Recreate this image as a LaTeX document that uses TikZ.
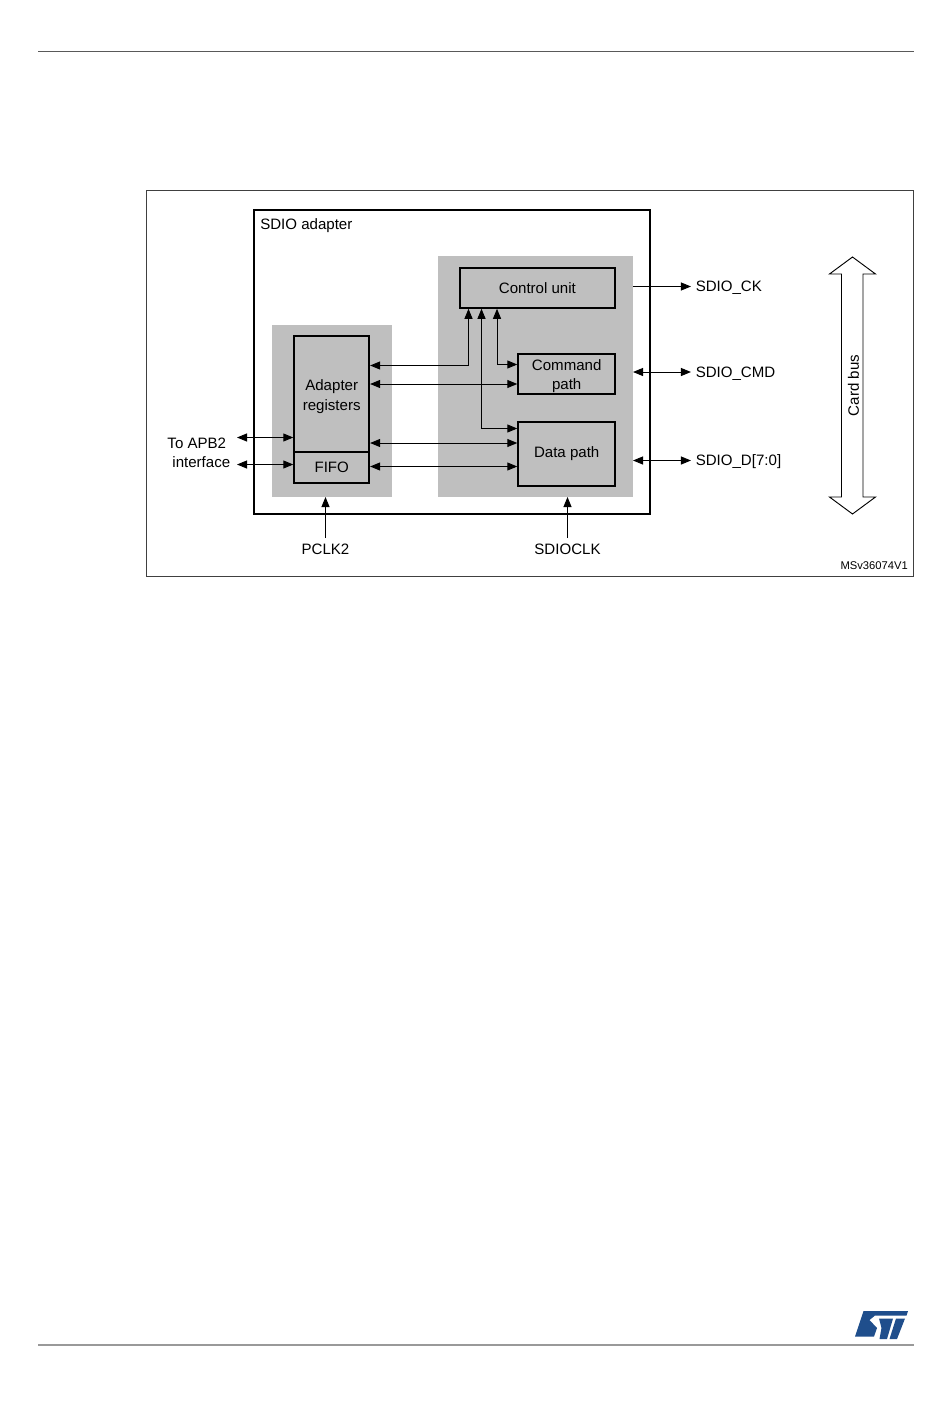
\documentclass[tikz,border=0pt]{standalone}
\usepackage{fontspec}
\setmainfont{Liberation Sans}
\usetikzlibrary{arrows.meta,positioning}
\definecolor{panel}{HTML}{BFBFBF}
\definecolor{stblue}{HTML}{1F4E8C}
\tikzset{
  x=0.75pt,y=-0.75pt,
  unit/.style={draw=black,line width=1.4pt,fill=panel,inner sep=0pt,align=center,font=\fontsize{11.3}{14}\selectfont},
  lab/.style={inner sep=0pt,font=\fontsize{11.3}{14.4}\selectfont,align=center},
  wire/.style={line width=0.7pt,-{Triangle[length=7.5pt,width=6pt]}},
  bwire/.style={line width=0.7pt,{Triangle[length=7.5pt,width=6pt]}-{Triangle[length=7.5pt,width=6pt]}},
}
\begin{document}
\begin{tikzpicture}
\useasboundingbox (0,0) rectangle (950,1420);
\fill[white] (0,0) rectangle (950,1420);
% page rules
\draw[line width=0.75pt,black!65] (38,51.5) -- (914,51.5);
\draw[line width=1.1pt,black!40] (38,1345) -- (914,1345);
% figure frame
\draw[line width=0.6pt,black!75] (146,190.5) rectangle (913.5,576.5);
\draw[line width=1.5pt] (254,210) rectangle (650,514);
\node[lab,anchor=west] (title) at (260,225.5) {SDIO adapter};
% panels
\fill[panel] (272,325) rectangle (392,497);
\fill[panel] (438,256) rectangle (633,497);
% units
\node[unit,minimum width=116.2pt,minimum height=29.7pt,anchor=north west] (ctrl) at (459,267.3) {\raisebox{0.5pt}{Control unit}};
\node[unit,minimum width=72.7pt,minimum height=29.7pt,anchor=north west] (cmd) at (517.3,353.3) {\rule{0pt}{11.5pt}Command\\path};
\node[unit,minimum width=72.7pt,minimum height=47.7pt,anchor=north west] (data) at (517.3,421.3) {\raisebox{-0.7pt}{Data path}};
\node[unit,minimum width=56.2pt,minimum height=87pt,anchor=north west] (regs) at (293.3,335.3) {\rule{0pt}{11.5pt}Adapter\\[0.7pt]registers};
\node[unit,minimum width=56.2pt,minimum height=23pt,anchor=north west] (fifo) at (293.3,451.2) {FIFO};
% outer labels
\node[lab,anchor=west] (ck) at (695.5,287.5) {SDIO\_CK};
\node[lab,anchor=west] (cmdl) at (695.5,373.5) {SDIO\_CMD};
\node[lab,anchor=west] (dl) at (695.5,461.5) {SDIO\_D[7:0]};
\node[lab] (pclk) at (325.5,549) {PCLK2};
\node[lab] (sclk) at (567.5,549) {SDIOCLK};
\node[lab] (apb) at (201.3,452.5) {To APB2\hspace{0.6em}\mbox{}\\interface};
\node[lab,font=\fontsize{8.4}{9}\selectfont,anchor=east] (ver) at (908,565.5) {MSv36074V1};
% free ends
\coordinate (p1) at (633,286.5);
\coordinate (p2) at (633,372);
\coordinate (p3) at (633,460.5);
\coordinate (p4) at (325.5,497);
\coordinate (p5) at (567.5,497);
\coordinate (a1) at (237,437.5);
\coordinate (a2) at (237,464.5);
% connectors
\draw[wire,shorten >=3.4pt] (p1) -- (p1 -| ck.west);
\draw[bwire,shorten >=3.4pt] (p2) -- (p2 -| cmdl.west);
\draw[bwire,shorten >=3.4pt] (p3) -- (p3 -| dl.west);
\draw[wire,shorten <=4pt] (p4 |- pclk.north) -- (p4);
\draw[wire,shorten <=4pt] (p5 |- sclk.north) -- (p5);
\draw[bwire] (a1) -- (a1 -| regs.west);
\draw[bwire] (a2) -- (a2 -| fifo.west);
\draw[bwire] (regs.east |- 0,365.5) -| (ctrl.south -| 468.5,0);
\draw[bwire] (regs.east |- 0,384) -- (cmd.west |- 0,384);
\draw[bwire] (regs.east |- 0,443) -- (data.west |- 0,443);
\draw[bwire] (fifo.east |- 0,466.5) -- (data.west |- 0,466.5);
\draw[bwire] (cmd.west |- 0,364.5) -| (ctrl.south -| 497,0);
\draw[bwire] (data.west |- 0,428.5) -| (ctrl.south -| 481.5,0);
% card bus arrow
\draw[line width=0.7pt,fill=white] (852.5,257) -- (875.5,274) -- (863,274) -- (863,497) -- (875.5,497) -- (852.5,514) -- (829.5,497) -- (841.5,497) -- (841.5,274) -- (829.5,274) -- cycle;
\node[lab,rotate=90] (bus) at (853.5,385.5) {Card bus};
% logo
\fill[stblue] (863.5,1311) -- (908,1311) -- (906.5,1315.5) -- (875,1315.5) -- (869.5,1320) -- (877,1328) -- (874,1336.5) -- (855,1336.5) -- cycle;
\fill[stblue] (879,1318.5) -- (893,1318.5) -- (887,1339) -- (879.5,1339) -- (881.5,1328) -- cycle;
\fill[stblue] (896,1318.5) -- (905,1318.5) -- (897,1339) -- (889.5,1339) -- cycle;
\end{tikzpicture}
\end{document}
